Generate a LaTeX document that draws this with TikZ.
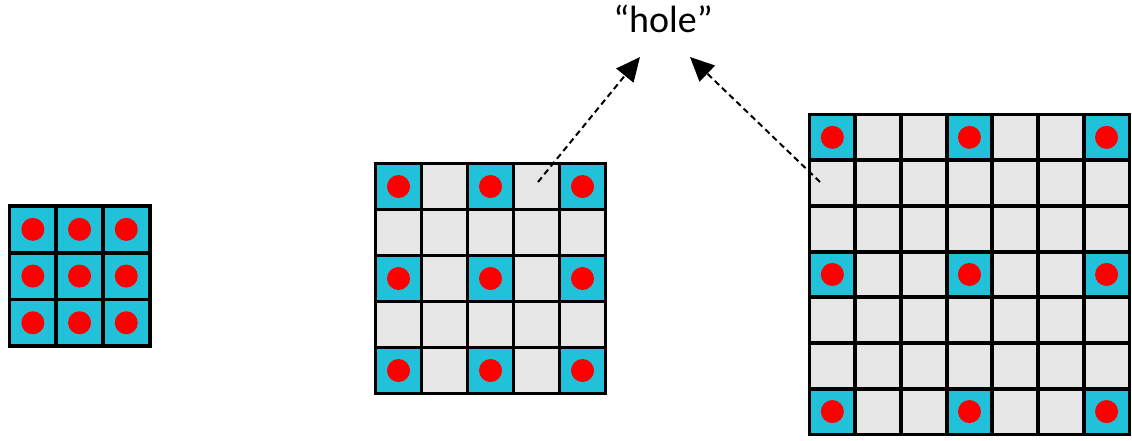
\documentclass[tikz,border=0pt]{standalone}
\usepackage{fontspec}
\setmainfont{Carlito}
\usetikzlibrary{arrows.meta}
\definecolor{cellcyan}{RGB}{34,193,218}
\definecolor{cellgray}{RGB}{230,230,230}
\definecolor{dotred}{RGB}{255,0,0}
\tikzset{
  gridline/.style={line width=3.8pt,black,line cap=rect},
  pointer/.style={line width=2pt,dash pattern=on 6pt off 4pt,-{Triangle[length=24pt,width=22pt]}},
  dot/.style={fill=dotred},
}
\newcommand{\drawgrid}[5]{%
  \foreach \i in {1,...,#3} {%
    \foreach \j in {1,...,#3} {%
      \pgfmathtruncatemacro{\hit}{(mod(\i-1,#5)==0 && mod(\j-1,#5)==0) ? 1 : 0}%
      \ifnum\hit=1
        \fill[cellcyan] ({#1+(\i-1)*#4},{#2+(\j-1)*#4}) rectangle ++(#4,#4);
        \fill[dot] ({#1+(\i-0.5)*#4},{#2+(\j-0.5)*#4}) circle (11.5);
      \else
        \fill[cellgray] ({#1+(\i-1)*#4},{#2+(\j-1)*#4}) rectangle ++(#4,#4);
      \fi
    }%
  }%
  \foreach \k in {0,...,#3} {%
    \draw[gridline] ({#1+\k*#4},#2) -- ++(0,{#3*#4});
    \draw[gridline] (#1,{#2+\k*#4}) -- ++({#3*#4},0);
  }%
}
\begin{document}
\begin{tikzpicture}[x=1pt,y=-1pt]
\useasboundingbox (0,0) rectangle (1132,440);
\drawgrid{9.5}{206}{3}{46.7}{1}
\drawgrid{375.5}{163.5}{5}{46}{2}
\drawgrid{809.5}{114.5}{7}{45.7}{3}
\node[font=\fontsize{38}{42}\selectfont] (hole) at (663,19) {“hole”};
\coordinate (s1) at (538,182);
\coordinate (t1) at (640,57);
\coordinate (s2) at (820,182);
\coordinate (t2) at (690,57);
\draw[pointer] (s1) -- (t1);
\draw[pointer] (s2) -- (t2);
\end{tikzpicture}
\end{document}
